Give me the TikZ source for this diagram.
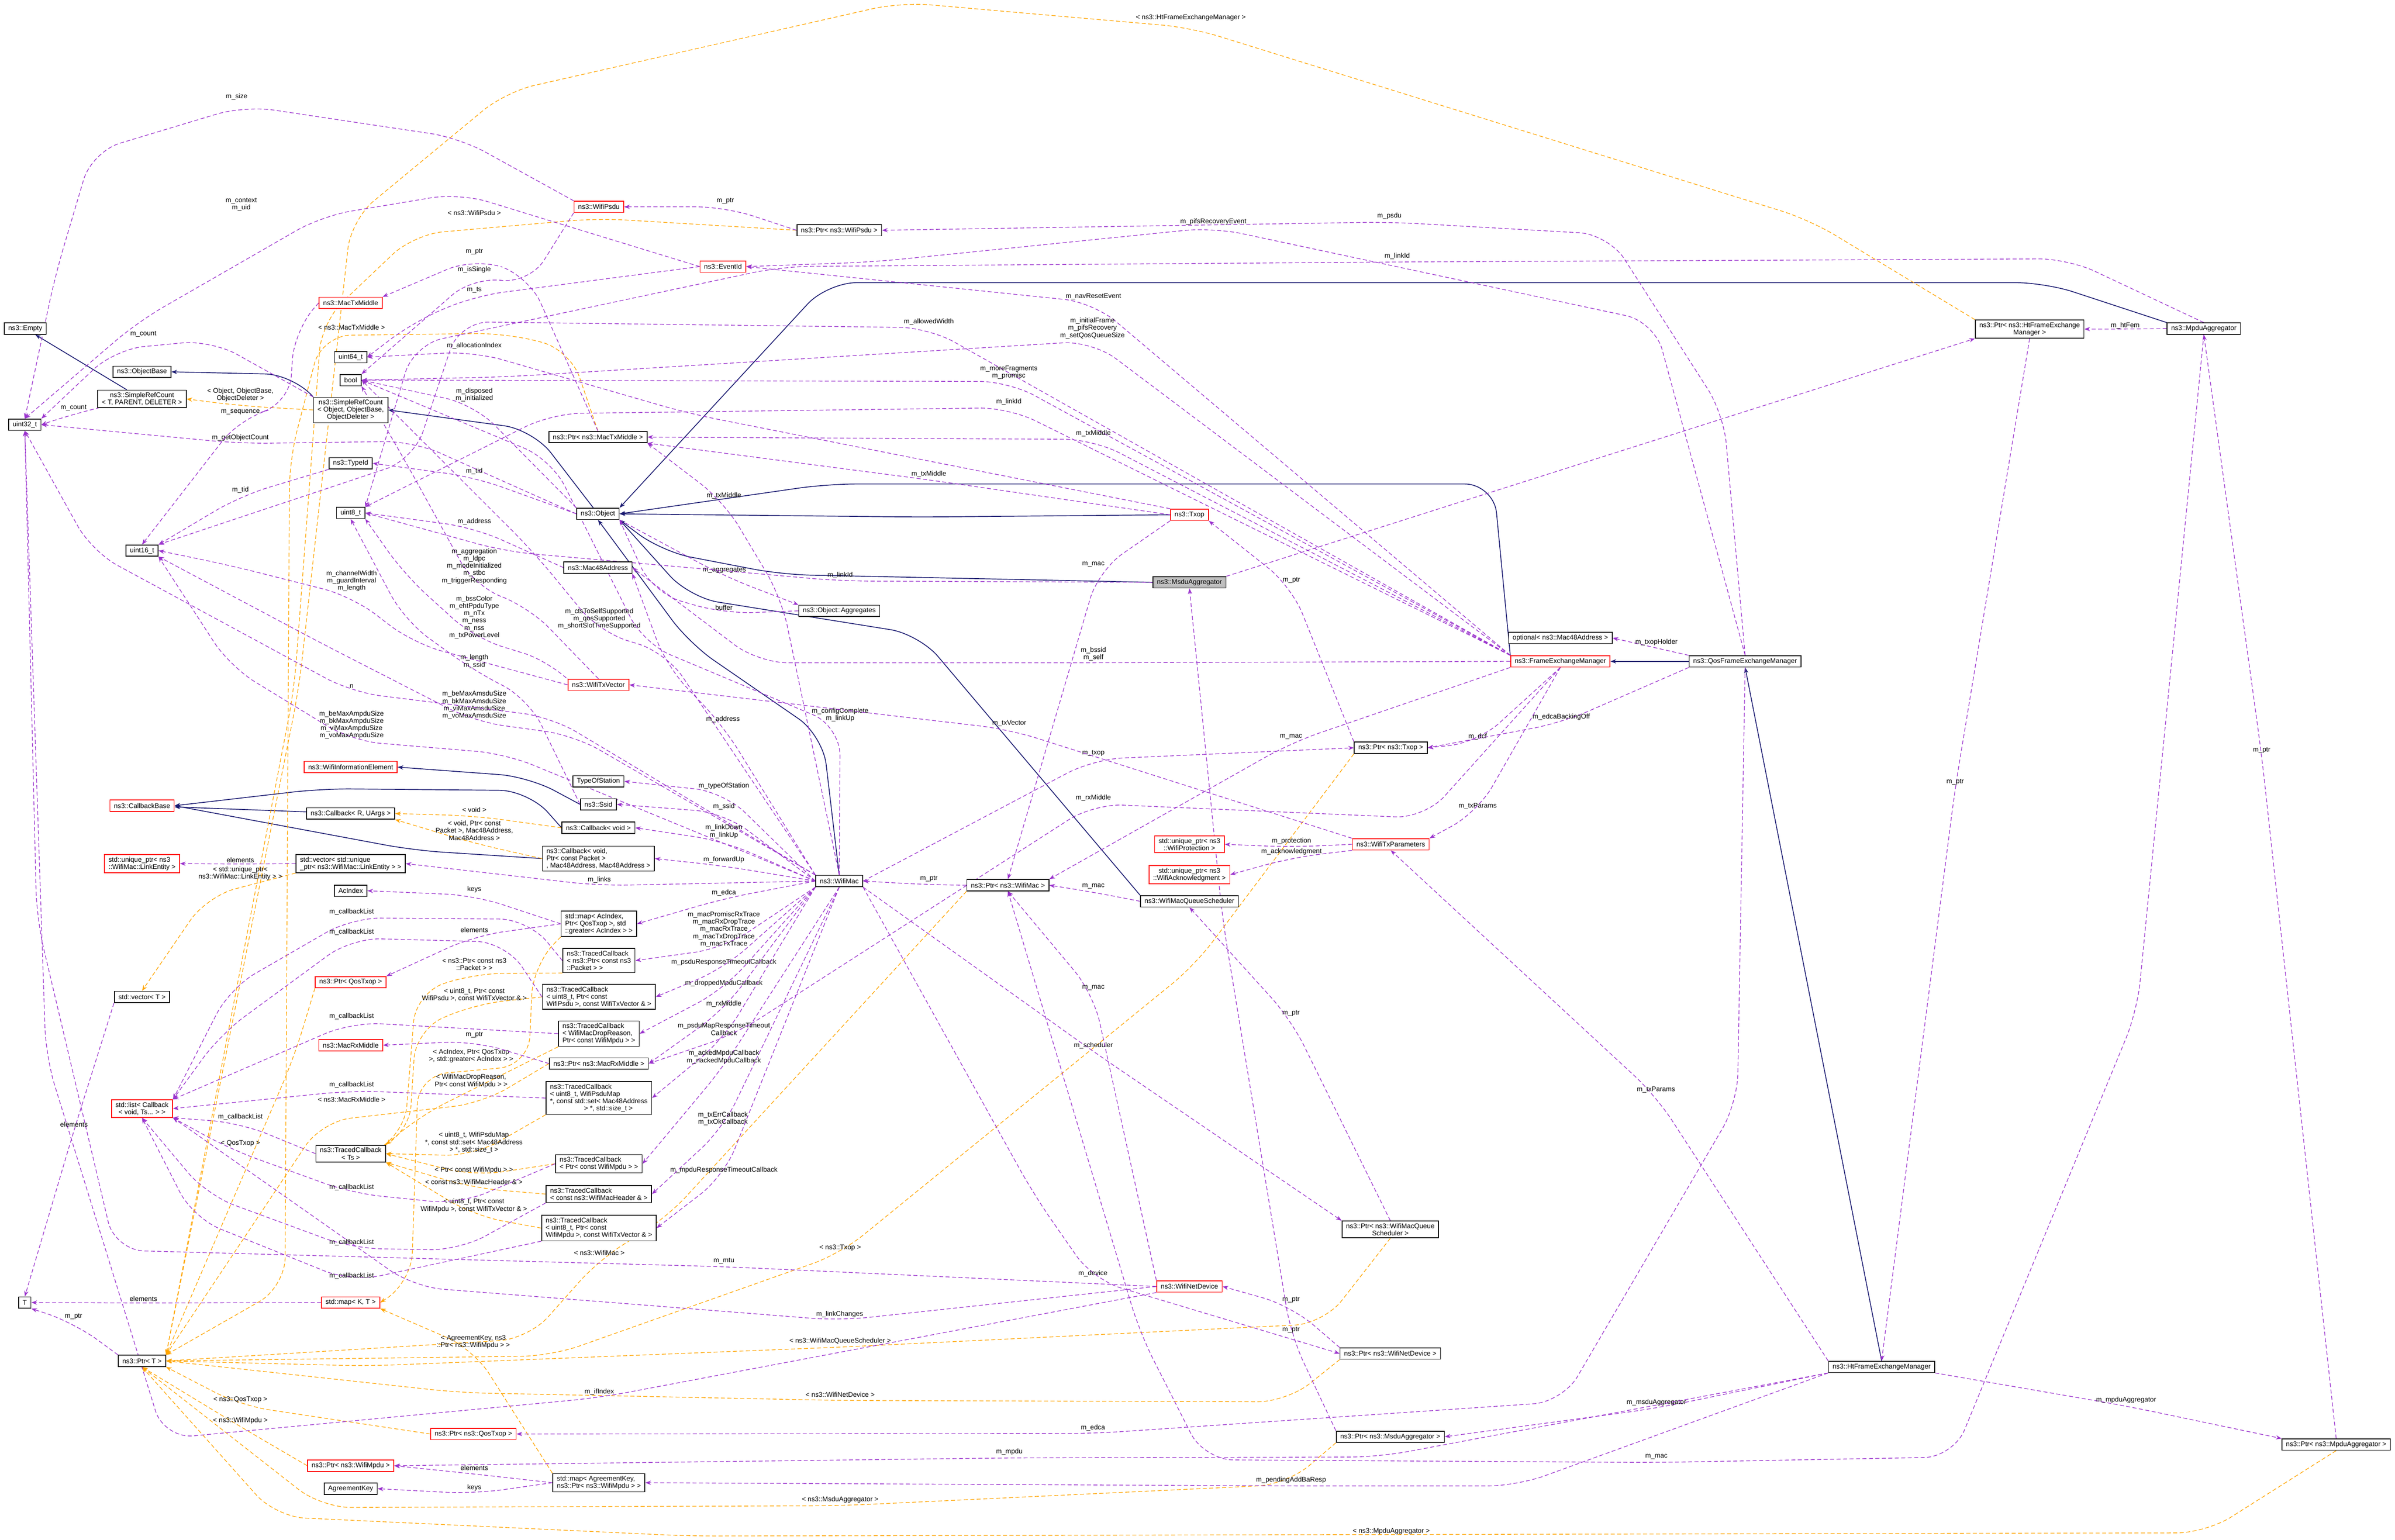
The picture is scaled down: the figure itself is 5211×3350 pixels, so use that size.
\documentclass[tikz,border=0pt]{standalone}
\usepackage{fontspec}
\setmainfont{Liberation Sans}
\usetikzlibrary{arrows.meta,calc}
\definecolor{memc}{HTML}{9A32CD}
\definecolor{tplc}{HTML}{FFA500}
\definecolor{inhc}{HTML}{191970}
\pgfdeclarelayer{bg}
\pgfsetlayers{bg,main}
\newcommand\lab[2]{\node[lbl] at (#1) {#2};}
\begin{document}
\begin{tikzpicture}[x=0.01cm,y=-0.01cm,
  every node/.style={font=\fontsize{4.2}{4.5}\selectfont},
  box/.style={draw=black,fill=white,line width=0.5pt,align=center,inner xsep=2.5pt,inner ysep=1.4pt,minimum height=7pt},
  rbox/.style={box,draw=red},
  gbox/.style={box,fill=black!25},
  lbox/.style={box,align=left},
  lbl/.style={inner sep=0.5pt,align=center},
  mem/.style={draw=memc,dash pattern=on 2.5pt off 1.5pt,line width=0.4pt,-{Stealth[length=3.5pt,width=2.6pt]},rounded corners=18pt},
  tpl/.style={draw=tplc,dash pattern=on 2.5pt off 1.5pt,line width=0.4pt,-{Stealth[length=3.5pt,width=2.6pt]},rounded corners=18pt},
  inh/.style={draw=inhc,line width=0.5pt,-{Stealth[length=3.5pt,width=2.6pt]},rounded corners=18pt}]
\useasboundingbox (0,0) rectangle (5211,3350);
% ---------------- nodes
\node[box] (empty) at (55,715) {ns3::Empty};
\node[box] (u32) at (54,924) {uint32\_t};
\node[box] (objbase) at (309,809) {ns3::ObjectBase};
\node[box] (srcT) at (309,868) {ns3::SimpleRefCount\\< T, PARENT, DELETER >};
\node[box] (u16) at (309,1198) {uint16\_t};
\node[rbox] (cbbase) at (309,1753) {ns3::CallbackBase};
\node[rbox,align=left] (uplink) at (309,1879) {std::unique\_ptr< ns3\\::WifiMac::LinkEntity >};
\node[box] (vecT) at (309,2169) {std::vector< T >};
\node[rbox] (list) at (309,2412) {std::list< Callback\\< void, Ts... > >};
\node[box] (T) at (54,2834) {T};
\node[box] (ptrT) at (309,2961) {ns3::Ptr< T >};
\node[rbox] (mactx) at (763,659) {ns3::MacTxMiddle};
\node[box] (u64) at (763,777) {uint64\_t};
\node[box] (bool) at (763,827) {bool};
\node[box] (srcO) at (763,892) {ns3::SimpleRefCount\\< Object, ObjectBase,\\ ObjectDeleter >};
\node[box] (typeid) at (763,1008) {ns3::TypeId};
\node[box] (u8) at (763,1116) {uint8\_t};
\node[rbox] (wie) at (763,1669) {ns3::WifiInformationElement};
\node[box] (cbR) at (763,1770) {ns3::Callback< R, UArgs >};
\node[lbox] (vecup) at (763,1879) {std::vector< std::unique\\\_ptr< ns3::WifiMac::LinkEntity > >};
\node[box] (acidx) at (763,1938) {AcIndex};
\node[rbox] (ptrqos) at (763,2137) {ns3::Ptr< QosTxop >};
\node[rbox] (macrx) at (763,2274) {ns3::MacRxMiddle};
\node[box] (tcTs) at (763,2510) {ns3::TracedCallback\\< Ts >};
\node[rbox] (mapKT) at (763,2834) {std::map< K, T >};
\node[rbox] (ptrnqos) at (1030,3120) {ns3::Ptr< ns3::QosTxop >};
\node[rbox] (ptrmpdu) at (763,3189) {ns3::Ptr< ns3::WifiMpdu >};
\node[box] (agkey) at (763,3239) {AgreementKey};
\node[rbox] (psdu) at (1303,450) {ns3::WifiPsdu};
\node[box] (ptrtxm) at (1301,951) {ns3::Ptr< ns3::MacTxMiddle >};
\node[box] (object) at (1301,1118) {ns3::Object};
\node[box] (mac48) at (1301,1235) {ns3::Mac48Address};
\node[rbox] (txvec) at (1302,1490) {ns3::WifiTxVector};
\node[box] (tos) at (1302,1700) {TypeOfStation};
\node[box] (ssid) at (1302,1750) {ns3::Ssid};
\node[box] (cbv) at (1302,1801) {ns3::Callback< void >};
\node[lbox] (cbvp) at (1302,1868) {ns3::Callback< void,\\ Ptr< const Packet >\\, Mac48Address, Mac48Address >};
\node[lbox] (mapac) at (1303,2010) {std::map< AcIndex,\\ Ptr< QosTxop >, std\\::greater< AcIndex > >};
\node[lbox] (tcpkt) at (1303,2090) {ns3::TracedCallback\\< ns3::Ptr< const ns3\\::Packet > >};
\node[lbox] (tcpsdu) at (1303,2169) {ns3::TracedCallback\\< uint8\_t, Ptr< const\\ WifiPsdu >, const WifiTxVector \& >};
\node[lbox] (tcdrop) at (1303,2249) {ns3::TracedCallback\\< WifiMacDropReason,\\ Ptr< const WifiMpdu > >};
\node[box] (ptrrx) at (1303,2314) {ns3::Ptr< ns3::MacRxMiddle >};
\node[lbox] (tcmap) at (1303,2389) {ns3::TracedCallback\\< uint8\_t, WifiPsduMap\\ *, const std::set< Mac48Address\\ \hspace{5em}> *, std::size\_t >};
\node[lbox] (tcmpdu) at (1303,2532) {ns3::TracedCallback\\< Ptr< const WifiMpdu > >};
\node[lbox] (tchdr) at (1303,2598) {ns3::TracedCallback\\< const ns3::WifiMacHeader \& >};
\node[lbox] (tcmpdu2) at (1303,2672) {ns3::TracedCallback\\< uint8\_t, Ptr< const\\ WifiMpdu >, const WifiTxVector \& >};
\node[lbox] (mapag) at (1303,3226) {std::map< AgreementKey,\\ ns3::Ptr< ns3::WifiMpdu > >};
\node[rbox] (evid) at (1573,580) {ns3::EventId};
\node[box] (ptrpsdu) at (1826,501) {ns3::Ptr< ns3::WifiPsdu >};
\node[box] (aggr) at (1826,1329) {ns3::Object::Aggregates};
\node[box] (wifimac) at (1826,1917) {ns3::WifiMac};
\node[box] (ptrmac) at (2193,1926) {ns3::Ptr< ns3::WifiMac >};
\node[rbox] (txop) at (2588,1120) {ns3::Txop};
\node[gbox] (msdu) at (2588,1267) {ns3::MsduAggregator};
\node[box] (optm) at (3395,1388) {optional< ns3::Mac48Address >};
\node[rbox] (fem) at (3395,1439) {ns3::FrameExchangeManager};
\node[box] (qfem) at (3797,1439) {ns3::QosFrameExchangeManager};
\node[box] (ptrtxop) at (3026,1627) {ns3::Ptr< ns3::Txop >};
\node[rbox] (txp) at (3026,1837) {ns3::WifiTxParameters};
\node[rbox] (uprot) at (2588,1837) {std::unique\_ptr< ns3\\::WifiProtection >};
\node[rbox] (uack) at (2588,1903) {std::unique\_ptr< ns3\\::WifiAcknowledgment >};
\node[box] (wmqs) at (2588,1961) {ns3::WifiMacQueueScheduler};
\node[box] (ptrhtfem) at (4416,716) {ns3::Ptr< ns3::HtFrameExchange\\Manager >};
\node[box] (mpdu) at (4795,715) {ns3::MpduAggregator};
\node[box] (ptrwmqs) at (3025,2675) {ns3::Ptr< ns3::WifiMacQueue\\Scheduler >};
\node[rbox] (netdev) at (2588,2799) {ns3::WifiNetDevice};
\node[box] (ptrnd) at (3025,2945) {ns3::Ptr< ns3::WifiNetDevice >};
\node[box] (htfem) at (4094,2974) {ns3::HtFrameExchangeManager};
\node[box] (ptrmsdu) at (3025,3126) {ns3::Ptr< ns3::MsduAggregator >};
\node[box] (ptrmpduag) at (5083,3143) {ns3::Ptr< ns3::MpduAggregator >};
% ---------------- edges
\begin{pgfonlayer}{bg}
% inheritance
\draw[inh] (srcT) -- (empty);
\draw[inh] (srcO.north west) -- (640,815) -- (objbase.east);
\draw[inh] (object) -- (1160,935) -- (srcO.east);
\draw[inh] (mpdu.north west) -- (4450,615) -- (1800,615) -- (object.north east);
\draw[inh] (fem.north west) -- (3250,1053) -- (1800,1053) -- (object.east);
\draw[inh] (txop.west) -- (2000,1125) -- (object.east);
\draw[inh] (msdu.west) -- (1700,1250) -- (1440,1200) -- (object.south east);
\draw[inh] (wifimac.north) -- (1790,1600) -- (1500,1400) -- (object.south);
\draw[inh] (wmqs.north west) -- (2000,1380) -- (1500,1300) -- (object.south east);
\draw[inh] (qfem) -- (fem);
\draw[inh] (htfem.north) -- (qfem.south);
\draw[inh] (ssid.west) -- (1150,1690) -- (wie.east);
\draw[inh] (cbR) -- (cbbase);
\draw[inh] (cbv.west) -- (1150,1720) -- (700,1716) -- (cbbase.east);
\draw[inh] (cbvp.west) -- (900,1850) -- (cbbase.east);
% templates
\draw[tpl] (srcO.west) -- (523,883) -- (srcT.east); \lab{523,859}{< Object, ObjectBase,\\ ObjectDeleter >}
\draw[tpl] (cbv.west) -- (1032,1775) -- (cbR.east); \lab{1032,1762}{< void >}
\draw[tpl] (cbvp.west) -- (1032,1835) -- (cbR.south east); \lab{1032,1807}{< void, Ptr< const\\ Packet >, Mac48Address,\\ Mac48Address >}
\draw[tpl] (vecup.south west) -- (450,1950) -- (vecT.north); \lab{523,1900}{< std::unique\_ptr<\\ ns3::WifiMac::LinkEntity > >}
\draw[tpl] (ptrpsdu.west) -- (1300,475) -- (900,510) -- (700,700) -- (640,1500) -- (ptrT.north east); \lab{1032,463}{< ns3::WifiPsdu >}
\draw[tpl] (ptrtxm.north) -- (1240,760) -- (1100,725) -- (700,730) -- (630,1000) -- (620,2800) -- (ptrT.north east); \lab{765,712}{< ns3::MacTxMiddle >}
\draw[tpl] (ptrqos.south west) -- (640,2300) -- (ptrT.north east); \lab{523,2488}{< QosTxop >}
\draw[tpl] (ptrrx.west) -- (1050,2400) -- (700,2440) -- (ptrT.north east); \lab{765,2392}{< ns3::MacRxMiddle >}
\draw[tpl] (ptrmac.south west) -- (1450,2650) -- (1304,2740) -- (1150,2913) -- (ptrT.east); \lab{1304,2726}{< ns3::WifiMac >}
\draw[tpl] (ptrtxop.south west) -- (2600,2100) -- (1828,2728) -- (1200,2950) -- (ptrT.east); \lab{1828,2715}{< ns3::Txop >}
\draw[tpl] (ptrwmqs.south) -- (2880,2880) -- (1828,2931) -- (800,2972) -- (ptrT.east); \lab{1828,2918}{< ns3::WifiMacQueueScheduler >}
\draw[tpl] (ptrnd.south west) -- (2800,3050) -- (1828,3047) -- (1000,3030) -- (ptrT.east); \lab{1828,3034}{< ns3::WifiNetDevice >}
\draw[tpl] (ptrnqos.west) -- (523,3058) -- (ptrT.south east); \lab{523,3045}{< ns3::QosTxop >}
\draw[tpl] (ptrmpdu.west) -- (523,3104) -- (ptrT.south); \lab{523,3091}{< ns3::WifiMpdu >}
\draw[tpl] (ptrhtfem.north west) -- (3937,478) -- (2591,60) -- (1960,5) -- (1100,200) -- (764,478) -- (650,1500) -- (ptrT.north east); \lab{2591,38}{< ns3::HtFrameExchangeManager >}
\draw[tpl] (ptrmsdu.south west) -- (2800,3230) -- (1828,3276) -- (700,3280) -- (ptrT.south); \lab{1828,3263}{< ns3::MsduAggregator >}
\draw[tpl] (ptrmpduag.south) -- (4800,3335) -- (1500,3342) -- (600,3300) -- (ptrT.south); \lab{3027,3332}{< ns3::MpduAggregator >}
\draw[tpl] (mapac.south west) -- (1160,2100) -- (1150,2318) -- (910,2340) -- (895,2790) -- (mapKT.east); \lab{1025,2297}{< AcIndex, Ptr< QosTxop\\ >, std::greater< AcIndex > >}
\draw[tpl] (mapag.north west) -- (1030,2935) -- (mapKT.south east); \lab{1030,2920}{< AgreementKey, ns3\\::Ptr< ns3::WifiMpdu > >}
\draw[tpl] (tcpkt.south west) -- (1032,2118) -- (905,2160) -- (880,2470) -- (tcTs.north east); \lab{1032,2098}{< ns3::Ptr< const ns3\\::Packet > >}
\draw[tpl] (tcpsdu.west) -- (1032,2185) -- (905,2240) -- (890,2470) -- (tcTs.north east); \lab{1032,2164}{< uint8\_t, Ptr< const\\ WifiPsdu >, const WifiTxVector \& >}
\draw[tpl] (tcdrop.south west) -- (1025,2372) -- (910,2430) -- (tcTs.north east); \lab{1025,2352}{< WifiMacDropReason,\\ Ptr< const WifiMpdu > >}
\draw[tpl] (tcmap.south west) -- (1031,2515) -- (tcTs.east); \lab{1031,2486}{< uint8\_t, WifiPsduMap\\ *, const std::set< Mac48Address\\ > *, std::size\_t >}
\draw[tpl] (tcmpdu.west) -- (1031,2559) -- (tcTs.east); \lab{1031,2546}{< Ptr< const WifiMpdu > >}
\draw[tpl] (tchdr.west) -- (1031,2585) -- (tcTs.south east); \lab{1031,2572}{< const ns3::WifiMacHeader \& >}
\draw[tpl] (tcmpdu2.west) -- (1031,2645) -- (tcTs.south east); \lab{1031,2623}{< uint8\_t, Ptr< const\\ WifiMpdu >, const WifiTxVector \& >}
% members
\draw[mem] (srcT.south west) -- (160,900) -- (u32.east); \lab{160,887}{m\_count}
\draw[mem] (srcO.north west) -- (460,740) -- (250,760) -- (u32.north east); \lab{312,727}{m\_count}
\draw[mem] (object.west) -- (900,960) -- (523,965) -- (u32.east); \lab{523,952}{m\_getObjectCount}
\draw[mem] (evid.west) -- (1000,420) -- (700,470) -- (300,700) -- (u32.north); \lab{525,445}{m\_context\\m\_uid}
\draw[mem] (psdu.north west) -- (1000,300) -- (532,230) -- (200,330) -- (120,600) -- (u32.north); \lab{515,210}{m\_size}
\draw[mem] (object.west) -- (1032,1038) -- (typeid.east); \lab{1032,1025}{m\_tid}
\draw[mem] (typeid.south west) -- (523,1079) -- (u16.north east); \lab{523,1066}{m\_tid}
\draw[mem] (aggr.west) -- (1575,1335) -- (1420,1290) -- (object.south east); \lab{1575,1322}{buffer}
\draw[mem] (object.south east) -- (1576,1254) -- (aggr.north west); \lab{1576,1241}{m\_aggregates}
\draw[mem] (mac48.west) -- (1032,1148) -- (u8.east); \lab{1032,1135}{m\_address}
\draw[mem] (txvec.north west) -- (1200,1440) -- (1032,1388) -- (880,1250) -- (u8.south east); \lab{1032,1343}{m\_bssColor\\m\_ehtPpduType\\m\_nTx\\m\_ness\\m\_nss\\m\_txPowerLevel}
\draw[mem] (txvec.west) -- (900,1400) -- (765,1297) -- (500,1230) -- (u16.east); \lab{765,1264}{m\_channelWidth\\m\_guardInterval\\m\_length}
\draw[mem] (txvec.north) -- (1150,1320) -- (1032,1276) -- (880,1000) -- (bool.south east); \lab{1032,1232}{m\_aggregation\\m\_ldpc\\m\_modeInitialized\\m\_stbc\\m\_triggerResponding}
\draw[mem] (ssid.west) -- (1150,1520) -- (1032,1460) -- (880,1350) -- (u8.south); \lab{1032,1439}{m\_length\\m\_ssid}
\draw[mem] (wifimac.north west) -- (1450,1420) -- (1304,1375) -- (1160,1200) -- (bool.east); \lab{1304,1346}{m\_ctsToSelfSupported\\m\_qosSupported\\m\_shortSlotTimeSupported}
\draw[mem] (wifimac.west) -- (1100,1640) -- (765,1612) -- (500,1450) -- (u16.south east); \lab{765,1577}{m\_beMaxAmpduSize\\m\_bkMaxAmpduSize\\m\_viMaxAmpduSize\\m\_voMaxAmpduSize}
\draw[mem] (wifimac.north west) -- (1250,1600) -- (1032,1570) -- (700,1400) -- (u16.south east); \lab{1032,1534}{m\_beMaxAmsduSize\\m\_bkMaxAmsduSize\\m\_viMaxAmsduSize\\m\_voMaxAmsduSize}
\draw[mem] (wifimac.north west) -- (1200,1560) -- (765,1506) -- (200,1200) -- (u32.south); \lab{765,1493}{n}
\draw[mem] (wifimac.north) -- (1828,1580) -- (1400,1400) -- (1200,1000) -- (bool.east); \lab{1828,1555}{m\_configComplete\\m\_linkUp}
\draw[mem] (wifimac.north west) -- (1573,1578) -- (1450,1450) -- (mac48.south east); \lab{1573,1565}{m\_address}
\draw[mem] (wifimac.west) -- (1575,1723) -- (tos.east); \lab{1575,1710}{m\_typeOfStation}
\draw[mem] (wifimac.west) -- (1575,1768) -- (ssid.east); \lab{1575,1755}{m\_ssid}
\draw[mem] (wifimac.west) -- (1575,1830) -- (cbv.east); \lab{1575,1809}{m\_linkDown\\m\_linkUp}
\draw[mem] (wifimac.west) -- (1575,1884) -- (cbvp.east); \lab{1575,1871}{m\_forwardUp}
\draw[mem] (wifimac.west) -- (1304,1927) -- (vecup.east); \lab{1304,1914}{m\_links}
\draw[mem] (wifimac.west) -- (1575,1955) -- (mapac.east); \lab{1575,1942}{m\_edca}
\draw[mem] (wifimac.south west) -- (1575,2063) -- (tcpkt.east); \lab{1575,2022}{m\_macPromiscRxTrace\\m\_macRxDropTrace\\m\_macRxTrace\\m\_macTxDropTrace\\m\_macTxTrace}
\draw[mem] (wifimac.south west) -- (1575,2107) -- (tcpsdu.east); \lab{1575,2094}{m\_psduResponseTimeoutCallback}
\draw[mem] (wifimac.south west) -- (1575,2152) -- (tcdrop.east); \lab{1575,2139}{m\_droppedMpduCallback}
\draw[mem] (wifimac.south west) -- (1575,2197) -- (ptrrx.east); \lab{1575,2184}{m\_rxMiddle}
\draw[mem] (wifimac.south west) -- (1575,2260) -- (tcmap.east); \lab{1575,2239}{m\_psduMapResponseTimeout\\Callback}
\draw[mem] (wifimac.south) -- (1575,2320) -- (tcmpdu.east); \lab{1575,2300}{m\_ackedMpduCallback\\m\_nackedMpduCallback}
\draw[mem] (wifimac.south) -- (1573,2455) -- (tchdr.east); \lab{1573,2434}{m\_txErrCallback\\m\_txOkCallback}
\draw[mem] (wifimac.south) -- (1575,2559) -- (tcmpdu2.east); \lab{1575,2546}{m\_mpduResponseTimeoutCallback}
\draw[mem] (wifimac.north) -- (1700,1300) -- (1575,1091) -- (ptrtxm.south east); \lab{1575,1078}{m\_txMiddle}
\draw[mem] (wifimac.east) -- (2379,1652) -- (ptrtxop.west); \lab{2379,1639}{m\_txop}
\draw[mem] (wifimac.south east) -- (2379,2288) -- (ptrwmqs.north west); \lab{2379,2275}{m\_scheduler}
\draw[mem] (wifimac.south east) -- (2250,2600) -- (2378,2784) -- (ptrnd.west); \lab{2378,2771}{m\_device}
\draw[mem] (ptrmac.west) -- (2021,1925) -- (wifimac.east); \lab{2021,1912}{m\_ptr}
\draw[mem] (txop.south west) -- (2390,1241) -- (ptrmac.north); \lab{2379,1228}{m\_mac}
\draw[mem] (fem.west) -- (2379,1442) -- (1650,1442) -- (mac48.east); \lab{2379,1423}{m\_bssid\\m\_self}
\draw[mem] (fem.south) -- (3100,1780) -- (2379,1749) -- (1600,2250) -- (ptrrx.east); \lab{2379,1736}{m\_rxMiddle}
\draw[mem] (fem.south west) -- (2809,1616) -- (ptrmac.north east); \lab{2809,1603}{m\_mac}
\draw[mem] (fem.south) -- (3215,1616) -- (ptrtxop.east); \lab{3215,1603}{m\_dcf}
\draw[mem] (qfem.south west) -- (3397,1573) -- (ptrtxop.east); \lab{3397,1560}{m\_edcaBackingOff}
\draw[mem] (fem.south) -- (3215,1767) -- (txp.north east); \lab{3215,1754}{m\_txParams}
\draw[mem] (qfem.north west) -- (3604,1410) -- (optm.east); \lab{3604,1397}{m\_txopHolder}
\draw[mem] (ptrtxop.north west) -- (2810,1276) -- (txop.south east); \lab{2810,1263}{m\_ptr}
\draw[mem] (txp.west) -- (2810,1843) -- (uprot.east); \lab{2810,1830}{m\_protection}
\draw[mem] (txp.south west) -- (2810,1866) -- (uack.east); \lab{2810,1853}{m\_acknowledgment}
\draw[mem] (wmqs.west) -- (2379,1941) -- (ptrmac.east); \lab{2379,1928}{m\_mac}
\draw[mem] (netdev.north west) -- (2379,2162) -- (ptrmac.south); \lab{2379,2149}{m\_mac}
\draw[mem] (ptrwmqs.north) -- (2809,2218) -- (wmqs.south); \lab{2809,2205}{m\_ptr}
\draw[mem] (ptrnd.north west) -- (2809,2841) -- (netdev.east); \lab{2809,2828}{m\_ptr}
\draw[mem] (ptrmsdu.north west) -- (2809,2906) -- (2660,2000) -- (msdu.south); \lab{2809,2893}{m\_ptr}
\draw[mem] (htfem.south west) -- (3604,3064) -- (ptrmsdu.east); \lab{3604,3051}{m\_msduAggregator}
\draw[mem] (htfem.south east) -- (4626,3059) -- (ptrmpduag.north west); \lab{4626,3046}{m\_mpduAggregator}
\draw[mem] (mpdu.south) -- (4650,2200) -- (4250,3170) -- (3604,3182) -- (2620,3176) -- (2480,2900) -- (ptrmac.south); \lab{3604,3169}{m\_mac}
\draw[mem] (htfem.south west) -- (3300,3233) -- (2809,3233) -- (mapag.east); \lab{2809,3220}{m\_pendingAddBaResp}
\draw[mem] (htfem.south west) -- (3000,3170) -- (2196,3172) -- (ptrmpdu.east); \lab{2196,3159}{m\_mpdu}
\draw[mem] (qfem.south) -- (3780,2400) -- (3400,3050) -- (2378,3119) -- (ptrnqos.east); \lab{2378,3106}{m\_edca}
\draw[mem] (netdev.west) -- (1575,2756) -- (250,2720) -- (80,2000) -- (u32.south); \lab{1575,2743}{m\_mtu}
\draw[mem] (netdev.south west) -- (1304,3041) -- (357,3130) -- (100,2300) -- (u32.south); \lab{1304,3028}{m\_ifIndex}
\draw[mem] (netdev.west) -- (1827,2873) -- (900,2800) -- (list.south east); \lab{1827,2860}{m\_linkChanges}
\draw[mem] (qfem.north) -- (3750,900) -- (3500,510) -- (3023,483) -- (ptrpsdu.east); \lab{3023,470}{m\_psdu}
\draw[mem] (mpdu.north) -- (4500,563) -- (3040,570) -- (1700,580) -- (900,750) -- (u8.north east); \lab{3040,557}{m\_linkId}
\draw[mem] (qfem.north) -- (3600,700) -- (2640,495) -- (1900,570) -- (evid.east); \lab{2640,482}{m\_pifsRecoveryEvent}
\draw[mem] (fem.north west) -- (2379,658) -- (evid.east); \lab{2379,645}{m\_navResetEvent}
\draw[mem] (fem.north west) -- (2021,713) -- (1000,700) -- (900,1000) -- (u16.north east); \lab{2021,700}{m\_allowedWidth}
\draw[mem] (fem.north west) -- (2377,742) -- (1100,820) -- (bool.east); \lab{2377,714}{m\_initialFrame\\m\_pifsRecovery\\m\_setQosQueueSize}
\draw[mem] (fem.north west) -- (2195,830) -- (bool.east); \lab{2195,810}{m\_moreFragments\\m\_promisc}
\draw[mem] (fem.north west) -- (2195,887) -- (1200,900) -- (u8.north east); \lab{2195,874}{m\_linkId}
\draw[mem] (fem.north west) -- (2379,956) -- (ptrtxm.east); \lab{2379,943}{m\_txMiddle}
\draw[mem] (txop.west) -- (2021,1044) -- (ptrtxm.south east); \lab{2021,1031}{m\_txMiddle}
\draw[mem] (msdu.west) -- (1828,1264) -- (1100,1200) -- (u8.east); \lab{1828,1251}{m\_linkId}
\draw[mem] (txop.north west) -- (1500,900) -- (1032,765) -- (u64.east); \lab{1032,752}{m\_allocationIndex}
\draw[mem] (object.north west) -- (1150,1000) -- (1032,880) -- (bool.east); \lab{1032,859}{m\_disposed\\m\_initialized}
\draw[mem] (ptrtxm.north) -- (1150,600) -- (1032,561) -- (mactx.north east); \lab{1032,548}{m\_ptr}
\draw[mem] (psdu.south west) -- (1150,620) -- (1032,600) -- (bool.north east); \lab{1032,587}{m\_isSingle}
\draw[mem] (evid.west) -- (1032,644) -- (900,700) -- (u64.east); \lab{1032,631}{m\_ts}
\draw[mem] (mactx.west) -- (640,720) -- (630,880) -- (523,909) -- (u16.north); \lab{523,896}{m\_sequence}
\draw[mem] (mapac.west) -- (1032,1948) -- (acidx.east); \lab{1032,1935}{keys}
\draw[mem] (mapac.west) -- (1032,2036) -- (ptrqos.north east); \lab{1032,2023}{elements}
\draw[mem] (vecup.west) -- (523,1880) -- (uplink.east); \lab{523,1871}{elements}
\draw[mem] (vecT.south west) -- (161,2459) -- (T.north); \lab{161,2446}{elements}
\draw[mem] (mapKT.west) -- (312,2835) -- (T.east); \lab{312,2826}{elements}
\draw[mem] (ptrT.north west) -- (160,2877) -- (T.south east); \lab{160,2864}{m\_ptr}
\draw[mem] (ptrrx.west) -- (1032,2265) -- (macrx.east); \lab{1032,2252}{m\_ptr}
\draw[mem] (mapag.west) -- (1032,3207) -- (ptrmpdu.east); \lab{1032,3194}{elements}
\draw[mem] (mapag.west) -- (1032,3250) -- (agkey.east); \lab{1032,3237}{keys}
\draw[mem] (tcpkt.west) -- (1150,2000) -- (765,1997) -- (500,2150) -- (list.north east); \lab{765,1984}{m\_callbackList}
\draw[mem] (tcpsdu.west) -- (1100,2050) -- (765,2041) -- (480,2250) -- (list.north east); \lab{765,2028}{m\_callbackList}
\draw[mem] (tcdrop.west) -- (765,2224) -- (list.north east); \lab{765,2211}{m\_callbackList}
\draw[mem] (tcmap.west) -- (765,2373) -- (list.east); \lab{765,2360}{m\_callbackList}
\draw[mem] (tcTs.west) -- (523,2443) -- (list.south east); \lab{523,2430}{m\_callbackList}
\draw[mem] (tcmpdu.west) -- (1000,2620) -- (765,2596) -- (500,2500) -- (list.south east); \lab{765,2583}{m\_callbackList}
\draw[mem] (tchdr.south west) -- (1000,2720) -- (765,2716) -- (450,2600) -- (list.south); \lab{765,2703}{m\_callbackList}
\draw[mem] (tcmpdu2.south west) -- (765,2789) -- (420,2650) -- (list.south); \lab{765,2776}{m\_callbackList}
\draw[mem] (ptrpsdu.west) -- (1578,450) -- (psdu.east); \lab{1578,437}{m\_ptr}
\draw[mem] (mpdu.west) -- (4624,716) -- (ptrhtfem.east); \lab{4624,708}{m\_htFem}
\draw[mem] (msdu.north east) -- (ptrhtfem.south west);
\draw[mem] (ptrhtfem.south) -- (4254,1714) -- (htfem.north); \lab{4254,1701}{m\_ptr}
\draw[mem] (ptrmpduag.north) -- (4921,1645) -- (mpdu.south); \lab{4921,1632}{m\_ptr}
\draw[mem] (txp.north west) -- (2196,1587) -- (txvec.east); \lab{2196,1574}{m\_txVector}
\draw[mem] (htfem.north west) -- (3603,2384) -- (txp.south); \lab{3603,2371}{m\_txParams}
\end{pgfonlayer}
\end{tikzpicture}
\end{document}
